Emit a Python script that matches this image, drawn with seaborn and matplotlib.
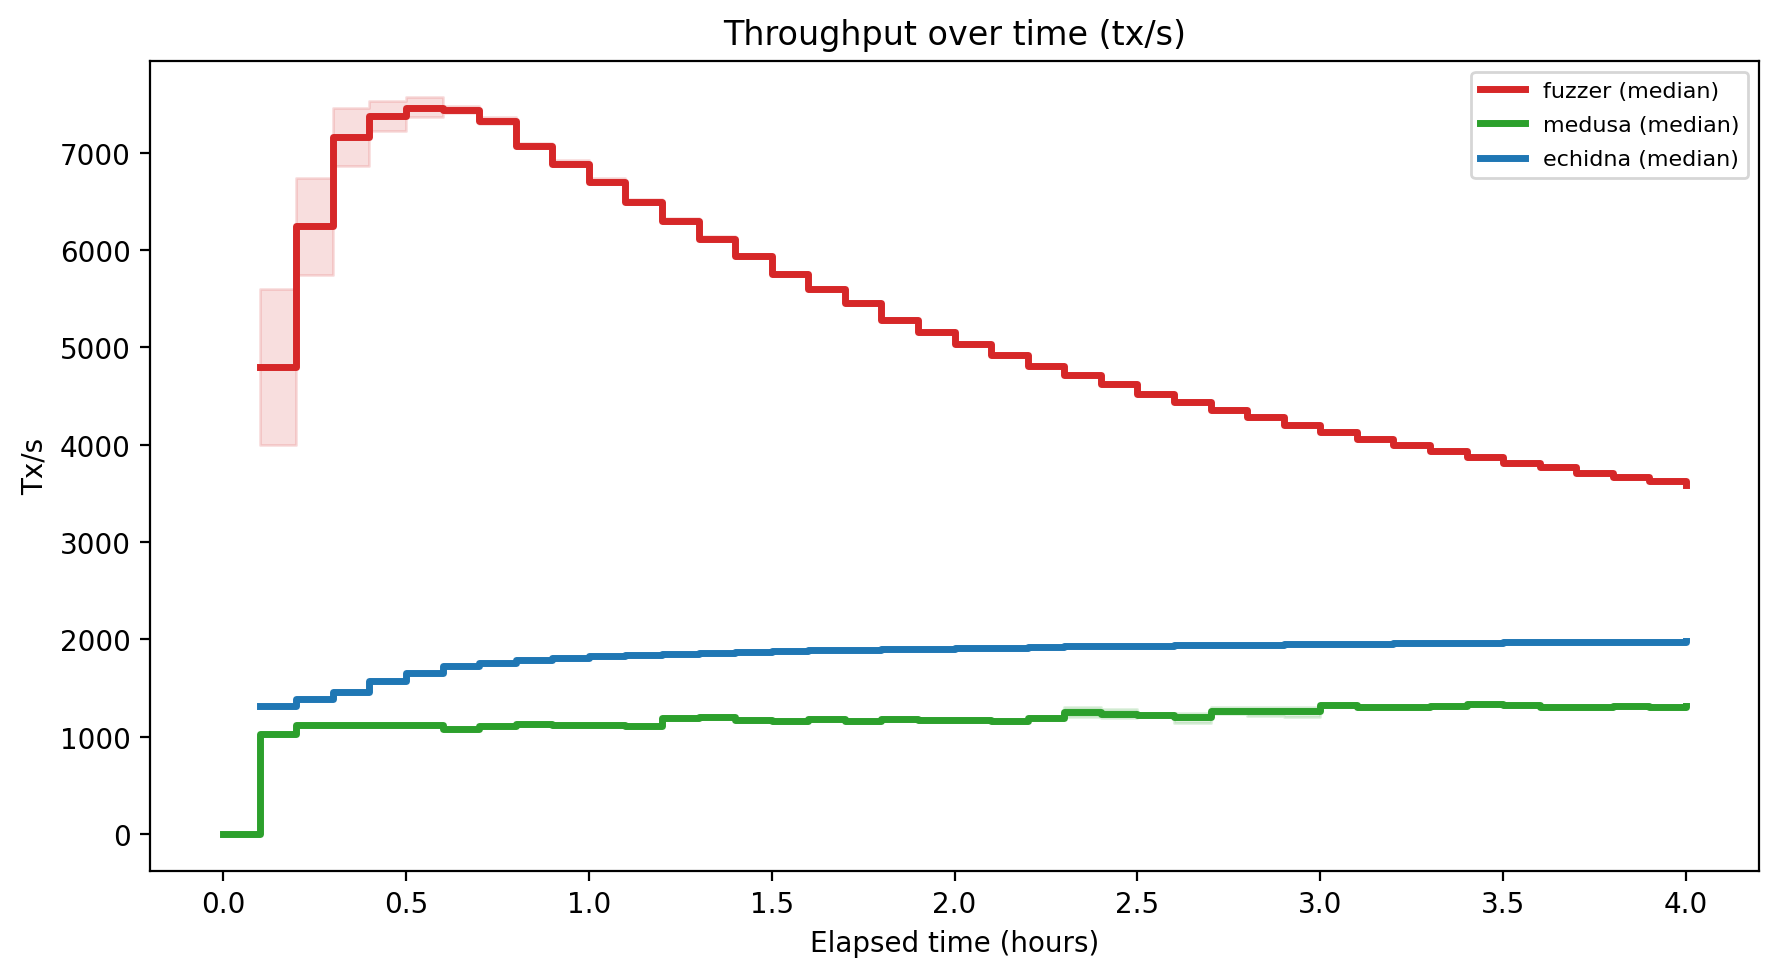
import numpy as np
import pandas as pd
import matplotlib
matplotlib.use("Agg")
import matplotlib.pyplot as plt
import seaborn as sns

# ---------------- data ----------------
hours_medusa = [round(0.1 * i, 1) for i in range(0, 41)]      # 0.0 .. 4.0
hours_other = [round(0.1 * i, 1) for i in range(1, 41)]       # 0.1 .. 4.0

fuzzer_median = [4800, 6245, 7160, 7378, 7462, 7435, 7325, 7065, 6888, 6702,
                 6495, 6298, 6112, 5940, 5757, 5595, 5455, 5283, 5154, 5033,
                 4918, 4806, 4712, 4628, 4524, 4440, 4360, 4280, 4205, 4134,
                 4060, 3997, 3930, 3875, 3812, 3768, 3714, 3668, 3625, 3590]
fuzzer_low = [4000, 5745, 6865, 7225, 7365, 7405, 7300, 7045, 6870, 6685,
              6480, 6285, 6100, 5920, 5735, 5575, 5440, 5270, 5145, 5025,
              4910, 4800, 4705, 4620, 4518, 4434, 4355, 4275, 4200, 4130,
              4056, 3993, 3926, 3871, 3808, 3764, 3710, 3664, 3621, 3586]
fuzzer_high = [5605, 6740, 7460, 7530, 7570, 7480, 7365, 7100, 6925, 6738,
               6528, 6330, 6140, 5965, 5775, 5610, 5468, 5295, 5165, 5043,
               4926, 4814, 4720, 4636, 4530, 4446, 4366, 4286, 4210, 4140,
               4064, 4001, 3934, 3879, 3816, 3772, 3718, 3672, 3629, 3594]

medusa_median = [0, 1030, 1115, 1122, 1122, 1122, 1078, 1108, 1133, 1122,
                 1122, 1112, 1188, 1198, 1168, 1163, 1180, 1163, 1185, 1175,
                 1175, 1165, 1195, 1252, 1232, 1222, 1202, 1262, 1260, 1258,
                 1320, 1306, 1306, 1316, 1338, 1327, 1306, 1306, 1318, 1306,
                 1313]
medusa_low = [0, 1022, 1105, 1114, 1114, 1114, 1068, 1100, 1124, 1114,
              1114, 1104, 1178, 1188, 1158, 1153, 1170, 1152, 1175, 1165,
              1163, 1155, 1185, 1205, 1195, 1200, 1140, 1230, 1210, 1205,
              1312, 1298, 1298, 1308, 1330, 1319, 1298, 1298, 1310, 1298,
              1305]
medusa_high = [0, 1038, 1125, 1130, 1130, 1130, 1088, 1116, 1142, 1130,
               1130, 1120, 1196, 1206, 1178, 1171, 1190, 1173, 1195, 1185,
               1187, 1175, 1205, 1300, 1285, 1245, 1240, 1300, 1305, 1300,
               1328, 1314, 1314, 1324, 1346, 1335, 1314, 1314, 1326, 1314,
               1321]

echidna_median = [1315, 1390, 1462, 1570, 1656, 1721, 1760, 1788, 1812, 1823,
                  1840, 1852, 1862, 1870, 1881, 1890, 1893, 1900, 1903, 1911,
                  1913, 1921, 1928, 1929, 1931, 1938, 1940, 1942, 1949, 1952,
                  1956, 1962, 1963, 1966, 1972, 1973, 1974, 1975, 1976, 1981]
echidna_low = [v - 8 for v in echidna_median]
echidna_high = [v + 8 for v in echidna_median]

series = [
    ("fuzzer (median)", hours_other, fuzzer_median, fuzzer_low, fuzzer_high, "#d62728"),
    ("medusa (median)", hours_medusa, medusa_median, medusa_low, medusa_high, "#2ca02c"),
    ("echidna (median)", hours_other, echidna_median, echidna_low, echidna_high, "#1f77b4"),
]

# ---------------- figure ----------------
plt.rcParams["font.family"] = ["DejaVu Sans"]
fig = plt.figure(figsize=(1779 / 200, 978 / 200), dpi=200)
ax = fig.add_subplot(111)
fig.subplots_adjust(left=0.0843, right=0.9888, top=0.9371, bottom=0.1087)

for label, xs, med, lo, hi, color in series:
    df = pd.DataFrame({"hours": xs, "tps": med})
    ax.fill_between(xs, lo, hi, step="post", color=color, alpha=0.15)
    sns.lineplot(data=df, x="hours", y="tps", ax=ax, color=color, lw=2.5,
                 drawstyle="steps-post", estimator=None, label=label)

ax.set_title("Throughput over time (tx/s)", fontsize=12)
ax.set_xlabel("Elapsed time (hours)", fontsize=10)
ax.set_ylabel("Tx/s", fontsize=10)
ax.legend(loc="upper right", fontsize=8, labelspacing=0.65)

fig.savefig("out.png", dpi=200)
